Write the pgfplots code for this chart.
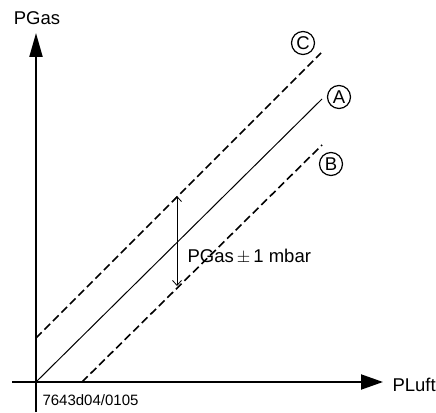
\documentclass[border=0pt]{standalone}
\usepackage{fontspec}
\setmainfont{Liberation Sans}
\usepackage{pgfplots}
\pgfplotsset{compat=1.18}
\usetikzlibrary{arrows.meta}
\newcommand{\bigf}{\fontsize{18.5}{20}\selectfont}
\begin{document}
\begin{tikzpicture}
\useasboundingbox (0,0) rectangle (436pt,412pt);
\begin{axis}[
  at={(0,0)}, anchor=south west,
  scale only axis, width=436pt, height=412pt,
  xmin=-36, xmax=400, ymin=-30, ymax=382,
  hide axis, clip=false,
]
% axes
\addplot[black, line width=2pt, -{Triangle[length=22pt,width=15pt]}] coordinates {(-24,0) (347,0)};
\addplot[black, line width=2pt, -{Triangle[length=24pt,width=13pt]}] coordinates {(0,-30) (0,349)};
% line A
\addplot[black, line width=1pt] coordinates {(0,0) (286,283)};
% line C
\addplot[black, line width=1.6pt, dash pattern=on 8pt off 4pt] coordinates {(0,44) (285,329)};
% line B
\addplot[black, line width=1.6pt, dash pattern=on 8pt off 4pt] coordinates {(46,0) (286,237)};
% tolerance arrow
\addplot[black, line width=0.8pt, {Straight Barb[length=5pt,width=9pt]}-{Straight Barb[length=5pt,width=9pt]}] coordinates {(141,96) (141,186)};
\node[anchor=west, font=\bigf] at (axis cs:148,125) {PGas\,$\pm$\,1 mbar};
\node[circle, draw, line width=1.2pt, minimum size=23pt, inner sep=0pt, font=\bigf] at (axis cs:267,339) {C};
\node[circle, draw, line width=1.2pt, minimum size=23pt, inner sep=0pt, font=\bigf] at (axis cs:303,285) {A};
\node[circle, draw, line width=1.2pt, minimum size=23pt, inner sep=0pt, font=\bigf] at (axis cs:295,218) {B};
\node[font=\bigf] at (axis cs:1,364) {PGas};
\node[anchor=west, font=\bigf] at (axis cs:353,-3) {PLuft};
\node[anchor=west, font=\fontsize{15}{16}\selectfont] at (axis cs:3,-18) {7643d04/0105};
\end{axis}
\end{tikzpicture}
\end{document}
